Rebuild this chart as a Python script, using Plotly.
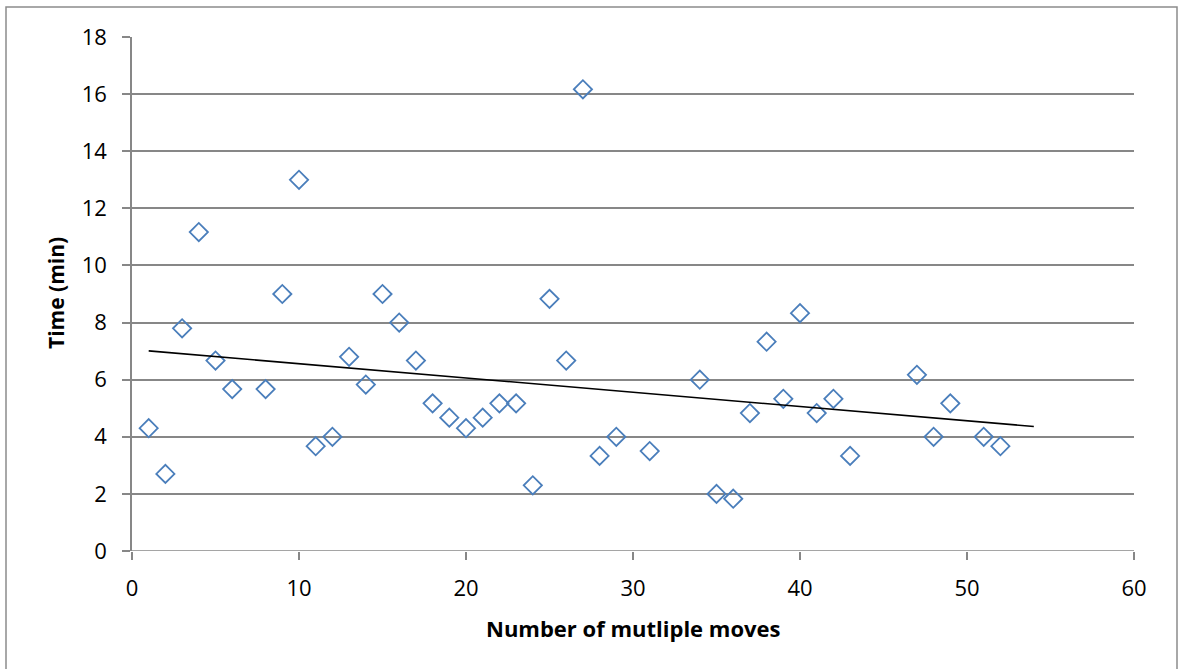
import numpy as np
import plotly.graph_objects as go

moves = [1, 2, 3, 4, 5, 6, 8, 9, 10, 11, 12, 13, 14, 15, 16, 17, 18, 19, 20, 21, 22,
         23, 24, 25, 26, 27, 28, 29, 31, 34, 35, 36, 37, 38, 39, 40, 41, 42, 43, 47,
         48, 49, 51, 52]
times = [4.3, 2.7, 7.8, 11.17, 6.67, 5.67, 5.67, 9.0, 13.0, 3.67, 4.0, 6.8, 5.83, 9.0,
         8.0, 6.67, 5.17, 4.67, 4.3, 4.67, 5.17, 5.17, 2.3, 8.83, 6.67, 16.17, 3.33,
         4.0, 3.5, 6.0, 2.0, 1.83, 4.83, 7.33, 5.33, 8.33, 4.83, 5.33, 3.33, 6.17,
         4.0, 5.17, 4.0, 3.67]
trend_x = [1, 54]

slope, intercept = np.polyfit(moves, times, 1)
trend_y = [slope * x + intercept for x in trend_x]

GRID = "#878787"
FONT = "'Open Sans', Lato, sans-serif"

fig = go.Figure()
fig.add_trace(go.Scatter(
    x=moves, y=times, mode="markers",
    marker=dict(symbol="diamond-open", size=14, color="#4a7ebb",
                line=dict(width=1.8, color="#4a7ebb")),
    showlegend=False, hoverinfo="x+y"))
fig.add_trace(go.Scatter(
    x=trend_x, y=trend_y, mode="lines",
    line=dict(color="black", width=1.6), showlegend=False))

fig.update_layout(
    width=1184, height=669,
    margin=dict(l=132, r=50, t=37, b=118),
    paper_bgcolor="white", plot_bgcolor="white",
    font=dict(family=FONT, size=22, color="black"),
    xaxis=dict(range=[0, 60], dtick=10, tick0=0, showgrid=False, zeroline=False,
               showline=False, ticks="outside", ticklen=8, tickwidth=1.5,
               tickcolor=GRID, ticklabelstandoff=10),
    yaxis=dict(range=[0, 18], dtick=2, tick0=0, showgrid=True, gridcolor=GRID,
               gridwidth=1.5, zeroline=False, showline=True, linecolor=GRID,
               linewidth=1.5, ticks="outside", ticklen=8, tickwidth=1.5,
               tickcolor=GRID, ticklabelstandoff=11),
    shapes=[
        dict(type="line", xref="paper", yref="y", x0=0, x1=1, y0=0, y1=0,
             line=dict(color=GRID, width=1.5), layer="below"),
        dict(type="rect", xref="paper", yref="paper",
             x0=(6 - 132) / 1002, x1=(1177 - 132) / 1002,
             y0=-0.3, y1=(551 - 7) / 514,
             line=dict(color="#8c8c8c", width=1.5)),
    ],
    annotations=[
        dict(text="<b>Number of mutliple moves</b>", xref="paper", yref="paper",
             x=(633 - 132) / 1002, y=(551 - 628) / 514, showarrow=False,
             xanchor="center", yanchor="middle", font=dict(size=22)),
        dict(text="<b>Time (min)</b>", xref="paper", yref="paper",
             x=(56 - 132) / 1002, y=(551 - 293) / 514, textangle=-90,
             showarrow=False, xanchor="center", yanchor="middle",
             font=dict(size=21)),
    ],
)

fig.write_html("out.html")
